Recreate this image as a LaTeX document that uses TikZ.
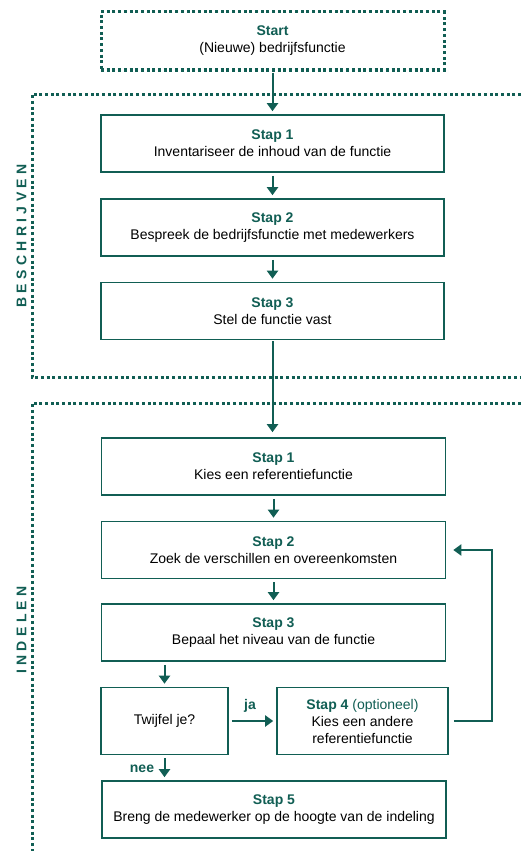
\documentclass[tikz,border=0pt]{standalone}
\usepackage{fontspec}
\setmainfont{Liberation Sans}
\usepackage{tikz}
\usetikzlibrary{arrows.meta}
\pgfdeclarelayer{nodelayer}
\pgfdeclarelayer{edgelayer}
\pgfsetlayers{edgelayer,nodelayer,main}
\definecolor{groen}{RGB}{17,94,84}
\tikzstyle{stap}=[fill=white, draw=groen, shape=rectangle, line width=1.6pt, align=center, inner sep=0pt, minimum width=344pt, minimum height=57pt, font=\fontsize{14}{17}\selectfont]
\tikzstyle{start}=[stap, line width=3pt, dash pattern=on 3pt off 2.7pt, minimum height=58pt]
\tikzstyle{kader}=[draw=groen, line width=3pt, dash pattern=on 3pt off 2.7pt]
\tikzstyle{fase}=[text=groen, rotate=90, font=\fontsize{14}{14}\selectfont\bfseries\addfontfeature{LetterSpace=31}]
\tikzstyle{label}=[text=groen, font=\fontsize{14}{17}\selectfont\bfseries]
\tikzstyle{pijl}=[draw=groen, line width=2pt, -{Triangle[width=11pt,length=8pt]}, shorten <=3pt, shorten >=3pt]
\newcommand{\kop}[1]{\textcolor{groen}{\textbf{#1}}}

\begin{document}
\begin{tikzpicture}[x=10pt, y=-10pt]
	\useasboundingbox (0,0) rectangle (52.1,85.1);
	\begin{pgfonlayer}{nodelayer}
		\node [style=start, minimum width=343pt] (0) at (27.25, 4.1) {\kop{Start}\\(Nieuwe) bedrijfsfunctie};
		\node [style=stap, minimum width=343pt] (1) at (27.25, 14.35) {\kop{Stap 1}\\Inventariseer de inhoud van de functie};
		\node [style=stap, minimum width=343pt] (2) at (27.25, 22.75) {\kop{Stap 2}\\Bespreek de bedrijfsfunctie met medewerkers};
		\node [style=stap, minimum width=343pt] (3) at (27.25, 31.1) {\kop{Stap 3}\\Stel de functie vast};
		\node [style=stap] (4) at (27.35, 46.65) {\kop{Stap 1}\\Kies een referentiefunctie};
		\node [style=stap] (5) at (27.35, 55.0) {\kop{Stap 2}\\Zoek de verschillen en overeenkomsten};
		\node [style=stap] (6) at (27.35, 63.25) {\kop{Stap 3}\\Bepaal het niveau van de functie};
		\node [style=stap, minimum width=127pt, minimum height=67pt] (7) at (16.45, 72.1) {Twijfel je?};
		\node [style=stap, minimum width=171pt, minimum height=67pt] (8) at (36.25, 72.1) {\kop{Stap 4} \textcolor{groen}{(optioneel)}\\Kies een andere\\referentiefunctie};
		\node [style=stap] (9) at (27.4, 80.95) {\kop{Stap 5}\\Breng de medewerker op de hoogte van de indeling};
		\node [style=fase] (10) at (2.15, 23.6) {BESCHRIJVEN};
		\node [style=fase] (11) at (2.15, 63.0) {INDELEN};
		\node [style=label] (12) at (25.0, 70.6) {ja};
		\node [style=label] (13) at (14.2, 76.9) {nee};
		\coordinate (14) at (49.2, 55.0);
	\end{pgfonlayer}
	\begin{pgfonlayer}{edgelayer}
		% fases
		\draw [style=kader] (52.1, 9.4) -- (3.2, 9.4) -- (3.2, 37.7) -- (52.1, 37.7);
		\draw [style=kader] (52.1, 40.3) -- (3.2, 40.3) -- (3.2, 85.1);
		% stappen
		\draw [style=pijl, shorten <=1pt] (0) to (1);
		\draw [style=pijl] (1) to (2);
		\draw [style=pijl] (2) to (3);
		\draw [style=pijl, shorten <=1pt, shorten >=5pt] (3) to (3 |- 4.north);
		\draw [style=pijl] (4) to (5);
		\draw [style=pijl] (5) to (6);
		\draw [style=pijl] (6.south -| 7.north) to (7.north);
		\draw [style=pijl] (7.east) to (8.west);
		\draw [style=pijl] (7.south) to (7.south |- 9.north);
		\draw [style=pijl, shorten <=5pt, shorten >=7pt] (8.east) -| (14) -- (5.east);
	\end{pgfonlayer}
\end{tikzpicture}
\end{document}
